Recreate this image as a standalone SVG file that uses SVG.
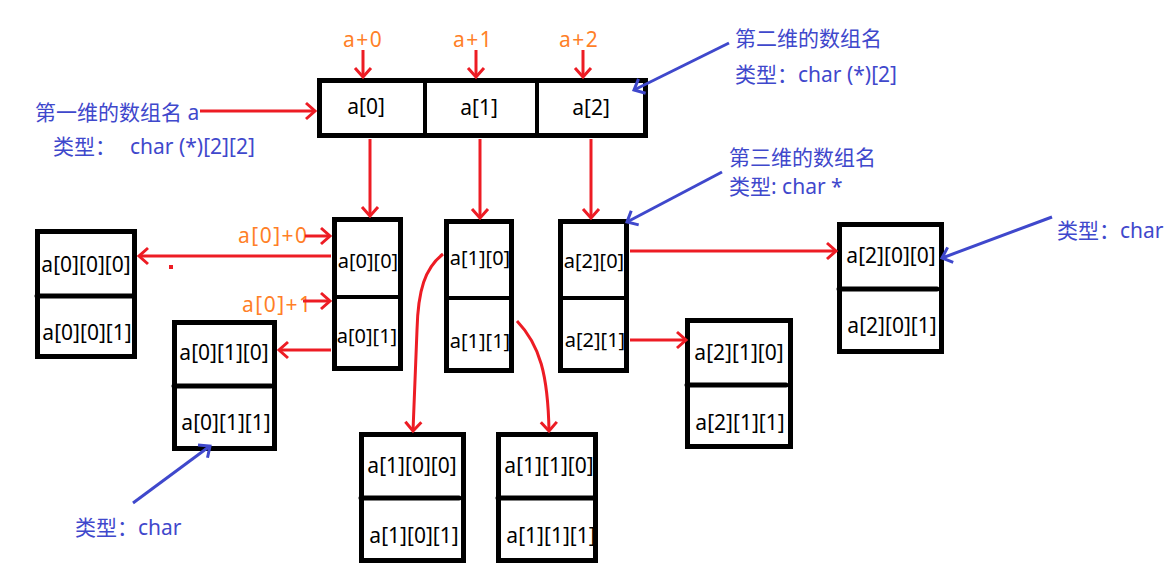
<svg xmlns="http://www.w3.org/2000/svg" width="1174" height="579" viewBox="0 0 1174 579">
<style>
text{font-family:"Noto Sans","Noto Sans CJK SC",sans-serif;font-size:21px}
.t{fill:#000;text-anchor:middle}
.c{font-size:20px}
.o{fill:#FF7F27;letter-spacing:1.5px}
.b{fill:#3F48CC}
.box{fill:#fff;stroke:#000;stroke-width:5}
.div{stroke:#000;stroke-width:5;stroke-linecap:round}
.cdiv{stroke:#000;stroke-width:4}
.r{fill:none;stroke:#ED1C24;stroke-width:3;marker-end:url(#ra)}
.bl{fill:none;stroke:#3F48CC;stroke-width:3;marker-end:url(#ba)}
</style>
<defs>
<marker id="ra" markerUnits="userSpaceOnUse" markerWidth="24" markerHeight="24" viewBox="-12 -12 24 24" refX="0" refY="0" orient="auto"><path d="M-9,-8 L0,0 L-9,8" fill="none" stroke="#ED1C24" stroke-width="3"/></marker>
<marker id="ba" markerUnits="userSpaceOnUse" markerWidth="24" markerHeight="24" viewBox="-12 -12 24 24" refX="0" refY="0" orient="auto"><path d="M-9,-8 L0,0 L-9,8" fill="none" stroke="#3F48CC" stroke-width="3"/></marker>
</defs>

<g id="labels">
<text class="b" x="35" y="120">第一维的数组名 a</text>
<text class="b" x="53" y="154">类型：<tspan x="130">char (*)[2][2]</tspan></text>
<text class="b" x="735" y="46">第二维的数组名</text>
<text class="b" x="735" y="82">类型：char (*)[2]</text>
<text class="b" x="729" y="165">第三维的数组名</text>
<text class="b" x="729" y="194">类型: char *</text>
<text class="b" x="1057" y="238">类型：char</text>
<text class="b" x="75" y="535">类型：char</text>
<text class="o" x="343" y="47">a+0</text>
<text class="o" x="453" y="47">a+1</text>
<text class="o" x="559" y="47">a+2</text>
<text class="o" x="238" y="243">a[0]+0</text>
<text class="o" x="242" y="312">a[0]+1</text>
</g>

<g id="node-a">
<rect class="box" x="319.5" y="80.5" width="326" height="55"/>
<line class="cdiv" x1="425" y1="80" x2="425" y2="136"/>
<line class="cdiv" x1="537" y1="80" x2="537" y2="136"/>
<text class="t" x="366" y="114">a[0]</text>
<text class="t" x="479" y="115">a[1]</text>
<text class="t" x="591" y="115">a[2]</text>
</g>

<g id="node-a0">
<rect class="box" x="334.5" y="219.5" width="66" height="149"/>
<line class="cdiv" x1="334" y1="297" x2="401" y2="297"/>
<text class="t c" x="368" y="268">a[0][0]</text>
<text class="t c" x="367" y="343">a[0][1]</text>
</g>
<g id="node-a1">
<rect class="box" x="446.5" y="221.5" width="65" height="149"/>
<line class="cdiv" x1="446" y1="298" x2="512" y2="298"/>
<text class="t c" x="480" y="265">a[1][0]</text>
<text class="t c" x="480" y="348">a[1][1]</text>
</g>
<g id="node-a2">
<rect class="box" x="560.5" y="221.5" width="66" height="149"/>
<line class="cdiv" x1="560" y1="298" x2="627" y2="298"/>
<text class="t c" x="594" y="268">a[2][0]</text>
<text class="t c" x="595" y="347">a[2][1]</text>
</g>

<g id="node-a00">
<rect class="box" x="37.5" y="231.5" width="97" height="125"/>
<line class="div" x1="37" y1="296" x2="132" y2="296"/>
<text class="t" x="86" y="272">a[0][0][0]</text>
<text class="t" x="87" y="340">a[0][0][1]</text>
</g>
<g id="node-a01">
<rect class="box" x="174.5" y="322.5" width="100" height="126"/>
<line class="div" x1="174" y1="386" x2="271" y2="386"/>
<text class="t" x="224" y="360">a[0][1][0]</text>
<text class="t" x="226" y="430">a[0][1][1]</text>
</g>
<g id="node-a10">
<rect class="box" x="361.5" y="434.5" width="102" height="126"/>
<line class="div" x1="361" y1="498" x2="459" y2="498"/>
<text class="t" x="412" y="473">a[1][0][0]</text>
<text class="t" x="414" y="543">a[1][0][1]</text>
</g>
<g id="node-a11">
<rect class="box" x="498.5" y="434.5" width="97" height="126"/>
<line class="div" x1="498" y1="498" x2="595" y2="498"/>
<text class="t" x="549" y="473">a[1][1][0]</text>
<text class="t" x="551" y="543">a[1][1][1]</text>
</g>
<g id="node-a21">
<rect class="box" x="687.5" y="320.5" width="103" height="126"/>
<line class="div" x1="687" y1="385" x2="786" y2="385"/>
<text class="t" x="739" y="360">a[2][1][0]</text>
<text class="t" x="740" y="430">a[2][1][1]</text>
</g>
<g id="node-a20">
<rect class="box" x="839.5" y="224.5" width="102" height="127"/>
<line class="div" x1="839" y1="289" x2="937" y2="289"/>
<text class="t" x="891" y="263">a[2][0][0]</text>
<text class="t" x="892" y="333">a[2][0][1]</text>
</g>

<g id="connectors">
<line class="r" x1="200" y1="111" x2="315" y2="111"/>
<line class="r" x1="363" y1="50" x2="363" y2="77"/>
<line class="r" x1="476" y1="50" x2="476" y2="77"/>
<line class="r" x1="583" y1="50" x2="583" y2="77"/>
<line class="r" x1="370" y1="139" x2="370" y2="216"/>
<line class="r" x1="480" y1="139" x2="480" y2="218"/>
<line class="r" x1="591" y1="139" x2="591" y2="218"/>
<line class="r" x1="305" y1="236" x2="330" y2="236"/>
<line class="r" x1="303" y1="301" x2="330" y2="301"/>
<line class="r" x1="331" y1="256" x2="139" y2="256"/>
<line class="r" x1="331" y1="350" x2="279" y2="350"/>
<path class="r" d="M443,254 C425,268 418,290 417,330 L413,431"/>
<path class="r" d="M517,321 C540,345 548,375 549,431"/>
<line class="r" x1="630" y1="251" x2="836" y2="251"/>
<line class="r" x1="630" y1="340" x2="686" y2="340"/>
<line class="bl" x1="729" y1="43" x2="634" y2="90"/>
<line class="bl" x1="722" y1="172" x2="627" y2="222"/>
<line class="bl" x1="1052" y1="217" x2="942" y2="258"/>
<line class="bl" x1="133" y1="503" x2="210" y2="446"/>
<rect x="169" y="265" width="4" height="4" fill="#ED1C24"/>
</g>
</svg>
